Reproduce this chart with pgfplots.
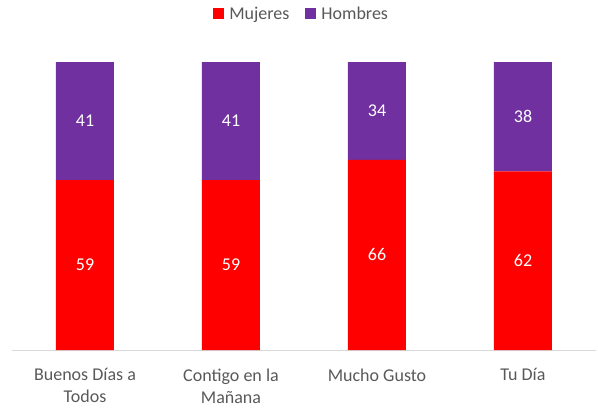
\documentclass[border=0pt]{standalone}
\usepackage{pgfplots}
\pgfplotsset{compat=1.18}
\usepackage{fontspec}
\setmainfont{Carlito}
\definecolor{mred}{HTML}{FF0000}
\definecolor{mpurple}{HTML}{7030A0}
\definecolor{txt}{HTML}{595959}
\definecolor{axl}{HTML}{D9D9D9}
\begin{document}
\begin{tikzpicture}[x=1pt,y=1pt]
\path[use as bounding box] (0,0) rectangle (598,408);
\begin{axis}[at={(12pt,58pt)}, anchor=south west, scale only axis,
  width=584pt, height=288pt, xmin=-0.5, xmax=3.5, ymin=0, ymax=100,
  ybar stacked, bar width=58pt,
  hide y axis, axis x line*=bottom, x axis line style={draw=axl, line width=0.8pt, -},
  major tick length=0pt,
  xtick={0,1,2,3},
  xticklabels={{Buenos Días a\\Todos},{Contigo en la\\Mañana},{Mucho Gusto},{Tu Día}},
  xticklabel style={align=center, font=\fontsize{18}{22}\selectfont, text=txt, yshift=-15pt},
  legend style={at={(0.496,1.167)}, anchor=center, legend columns=2, draw=none,
    font=\fontsize{18}{20}\selectfont, text=txt,
    /tikz/every odd column/.style={column sep=3pt},
    /tikz/every even column/.style={column sep=14pt}},
  legend image code/.code={\fill[#1] (0pt,-5.5pt) rectangle (11pt,5.5pt);},
  clip=false]
\addplot[fill=mred, draw=none] coordinates {(0,59) (1,59) (2,66) (3,62)};
\addlegendentry{Mujeres}
\addplot[fill=mpurple, draw=none] coordinates {(0,41) (1,41) (2,34) (3,38)};
\addlegendentry{Hombres}
\end{axis}
\begin{axis}[at={(12pt,58pt)}, anchor=south west, scale only axis,
  width=584pt, height=288pt, xmin=-0.5, xmax=3.5, ymin=0, ymax=100,
  hide axis, clip=false,
  nodes near coords, point meta=explicit symbolic,
  every node near coord/.append style={anchor=center, text=white, font=\fontsize{18}{20}\selectfont}]
\addplot[draw=none, mark=none] coordinates {(0,29.5)[59] (1,29.5)[59] (2,33)[66] (3,31)[62]};
\addplot[draw=none, mark=none] coordinates {(0,79.5)[41] (1,79.5)[41] (2,83)[34] (3,81)[38]};
\end{axis}
\end{tikzpicture}
\end{document}
